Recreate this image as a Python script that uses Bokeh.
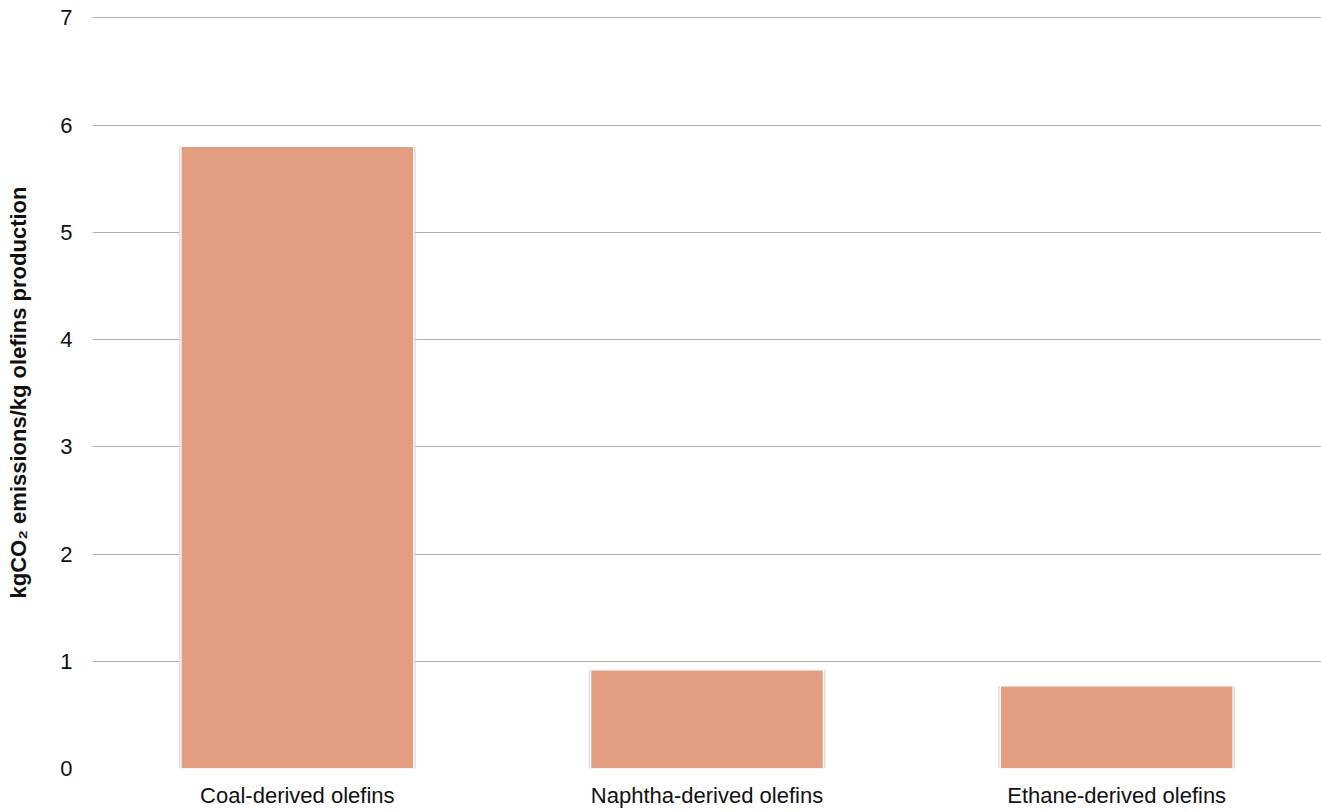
from bokeh.plotting import figure
from bokeh.models import ColumnDataSource, FixedTicker, Range1d
from bokeh.embed import file_html
from bokeh.resources import INLINE

categories = ["Coal-derived olefins", "Naphtha-derived olefins", "Ethane-derived olefins"]
emissions = [5.8, 0.92, 0.77]
y_ticks = [0, 1, 2, 3, 4, 5, 6, 7]

source = ColumnDataSource(data=dict(cat=categories, val=emissions))

p = figure(x_range=categories, y_range=Range1d(0, 7.012), width=1321, height=810,
           output_backend="svg", toolbar_location=None,
           min_border_left=92, min_border_right=0, min_border_top=16, min_border_bottom=42)
p.outline_line_color = None
p.background_fill_color = "white"
p.border_fill_color = "white"

# soft shadow behind bars
p.vbar(x="cat", top="val", width=0.578, source=source, fill_color="#d6d6d6",
       fill_alpha=0.8, line_color=None)
p.vbar(x="cat", top="val", width=0.568, source=source, fill_color="#e39e81",
       line_color="white", line_width=1.2)

font = "Liberation Sans"
p.yaxis.ticker = FixedTicker(ticks=y_ticks)
p.yaxis.axis_line_color = None
p.yaxis.major_tick_line_color = None
p.yaxis.minor_tick_line_color = None
p.yaxis.major_tick_out = 0
p.yaxis.major_tick_in = 0
p.yaxis.major_label_standoff = 20
p.yaxis.major_label_text_font = font
p.yaxis.major_label_text_font_size = "22px"
p.yaxis.major_label_text_color = "#111111"
p.yaxis.axis_label = "kgCO\u2082 emissions/kg olefins production"
p.yaxis.axis_label_text_font = font
p.yaxis.axis_label_text_font_size = "22px"
p.yaxis.axis_label_text_font_style = "bold"
p.yaxis.axis_label_text_color = "#111111"
p.yaxis.axis_label_standoff = 26

p.xaxis.axis_line_color = None
p.xaxis.major_tick_line_color = None
p.xaxis.major_tick_out = 0
p.xaxis.major_tick_in = 0
p.xaxis.major_label_standoff = 14
p.xaxis.major_label_text_font = font
p.xaxis.major_label_text_font_size = "22px"
p.xaxis.major_label_text_color = "#111111"

p.xgrid.grid_line_color = None
p.ygrid.grid_line_color = "#adadad"
p.ygrid.grid_line_width = 1.2

open("out.html", "w").write(file_html(p, INLINE))
